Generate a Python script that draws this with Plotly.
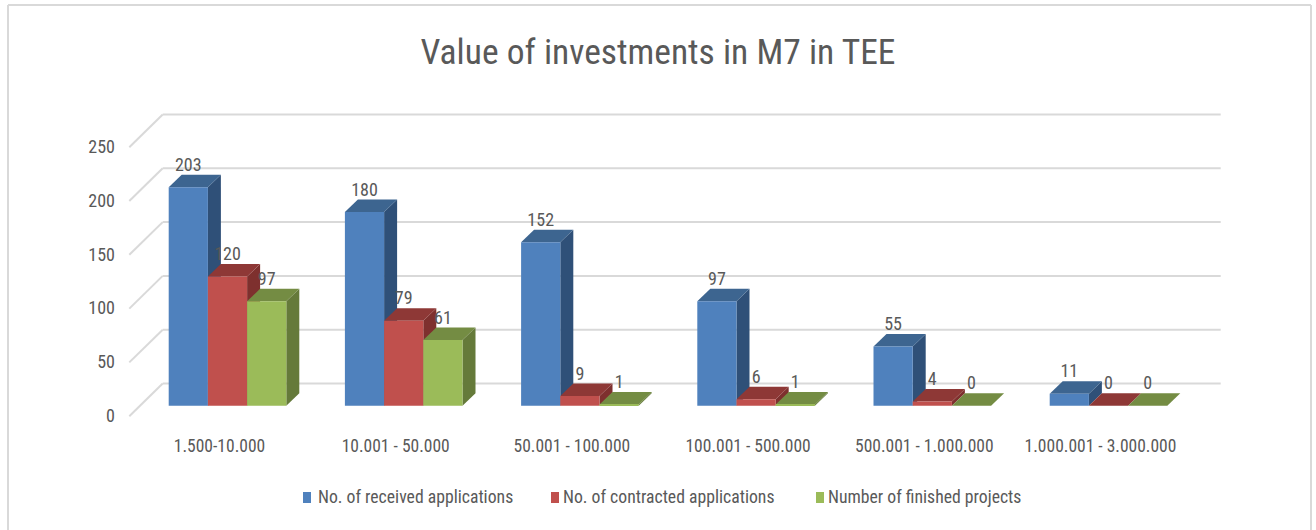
import plotly.graph_objects as go

# ---- data ----
categories = ["1.500-10.000", "10.001 - 50.000", "50.001 - 100.000",
              "100.001 - 500.000", "500.001 - 1.000.000", "1.000.001 - 3.000.000"]
received = [203, 180, 152, 97, 55, 11]
contracted = [120, 79, 9, 6, 4, 0]
finished = [97, 61, 1, 1, 0, 0]
series_names = ["No. of received applications", "No. of contracted applications",
                "Number of finished projects"]
y_ticks = [0, 50, 100, 150, 200, 250]
title_text = "Value of investments in M7 in TEE"

# ---- style ----
FONT = "Roboto Condensed, Liberation Sans, sans-serif"
TXT = "#595959"
GRID = "#d9d9d9"
front = ["#4F81BD", "#C0504D", "#9BBB59"]
top = ["#3D6590", "#8E3836", "#748C43"]
side = ["#2F5078", "#7E302E", "#657A3A"]

W, H = 1316, 530
L, R, T, B = 116, 1240, 100, 433
X0, PXX = 227.5, 176.2      # px of group 0 centre, px per category
Y0, PXY = 405.7, 1.076      # px of value 0, px per unit

bar_w = 39.2 / PXX
dx, dy = 13 / PXX, 12.5 / PXY          # bar depth
x_range = [(L - X0) / PXX, (R - X0) / PXX]
y_range = [(Y0 - B) / PXY, (Y0 - T) / PXY]
wall_dy = 22.2 / PXY
front_dy = -10.5 / PXY
x_front, x_back, x_end = (129.3 - X0) / PXX, (162.7 - X0) / PXX, (1220.7 - X0) / PXX
label_dy = 21 / PXY
all_series = [received, contracted, finished]

fig = go.Figure()
shapes = []


def poly(points, color):
    path = "M " + " L ".join(f"{a},{b}" for a, b in points) + " Z"
    return dict(type="path", path=path, xref="x", yref="y", layer="below",
                fillcolor=color, line=dict(width=0))


# walls
for t in y_ticks:
    shapes.append(dict(type="line", xref="x", yref="y", layer="below",
                       x0=x_front, y0=t + front_dy, x1=x_back, y1=t + wall_dy,
                       line=dict(color=GRID, width=2)))
    shapes.append(dict(type="line", xref="x", yref="y", layer="below",
                       x0=x_back, y0=t + wall_dy, x1=x_end, y1=t + wall_dy,
                       line=dict(color=GRID, width=2)))

# depth faces of each bar, painted back-to-front under the bars
for c in range(len(categories)):
    for s, vals in enumerate(all_series):
        v = vals[c]
        a = c + (s - 1.5) * bar_w
        b = a + bar_w
        if v > 0:
            shapes.append(poly([(b, 0), (b + dx, dy), (b + dx, v + dy), (b, v)], side[s]))
        shapes.append(poly([(a, v), (a + dx, v + dy), (b + dx, v + dy), (b, v)], top[s]))

# bars
for s, vals in enumerate(all_series):
    fig.add_trace(go.Bar(x=list(range(len(categories))), y=vals, name=series_names[s],
                         marker=dict(color=front[s], line=dict(width=0)), showlegend=False))

# value labels
for s, vals in enumerate(all_series):
    fig.add_trace(go.Scatter(x=[c + (s - 1) * bar_w for c in range(len(categories))],
                             y=[v + label_dy for v in vals],
                             text=[str(v) for v in vals], mode="text",
                             textposition="middle center",
                             textfont=dict(family=FONT, size=18, color=TXT),
                             showlegend=False, hoverinfo="skip"))


def px(v):
    return (v - L) / (R - L)


def py(v):
    return (B - v) / (B - T)


# outer frame
for (a, b, c, d) in [(8, 5, 1311, 5), (8, 5, 8, 530), (1311, 5, 1311, 530)]:
    shapes.append(dict(type="line", xref="paper", yref="paper", layer="below",
                       x0=px(a), y0=py(b), x1=px(c), y1=py(d),
                       line=dict(color=GRID, width=2)))

# legend
annotations = []
for name, col, sx, tx in zip(series_names, front, [303, 551, 816], [316, 561, 826]):
    shapes.append(dict(type="rect", xref="paper", yref="paper", layer="above",
                       x0=px(sx), x1=px(sx + 8), y0=py(492), y1=py(503),
                       fillcolor=col, line=dict(width=0)))
    annotations.append(dict(xref="paper", yref="paper", x=px(tx), y=py(497),
                            text=name, showarrow=False, xanchor="left", yanchor="middle",
                            font=dict(family=FONT, size=17.7, color=TXT)))

fig.update_layout(
    width=W, height=H, autosize=False,
    margin=dict(l=L, r=W - R, t=T, b=H - B),
    paper_bgcolor="white", plot_bgcolor="white",
    barmode="group", bargap=1 - 3 * bar_w, bargroupgap=0,
    title=dict(text=title_text, x=0.5, xanchor="center", xref="container",
               y=1 - 52 / H, yanchor="middle",
               font=dict(family=FONT, size=35.5, color=TXT)),
    xaxis=dict(range=x_range, showgrid=False, zeroline=False, showline=False,
               tickmode="array", tickvals=[i - 8 / PXX for i in range(len(categories))],
               ticktext=categories, ticks="",
               tickfont=dict(family=FONT, size=17.5, color=TXT)),
    yaxis=dict(range=y_range, showgrid=False, zeroline=False, showline=False,
               tickmode="array", tickvals=[t - 10 / PXY for t in y_ticks],
               ticktext=[str(t) for t in y_ticks], ticks="",
               tickfont=dict(family=FONT, size=18, color=TXT)),
    shapes=shapes, annotations=annotations,
)

fig.write_html("out.html", config={"displayModeBar": False},
               post_script="document.body.style.margin='0';document.body.style.overflow='hidden';")
